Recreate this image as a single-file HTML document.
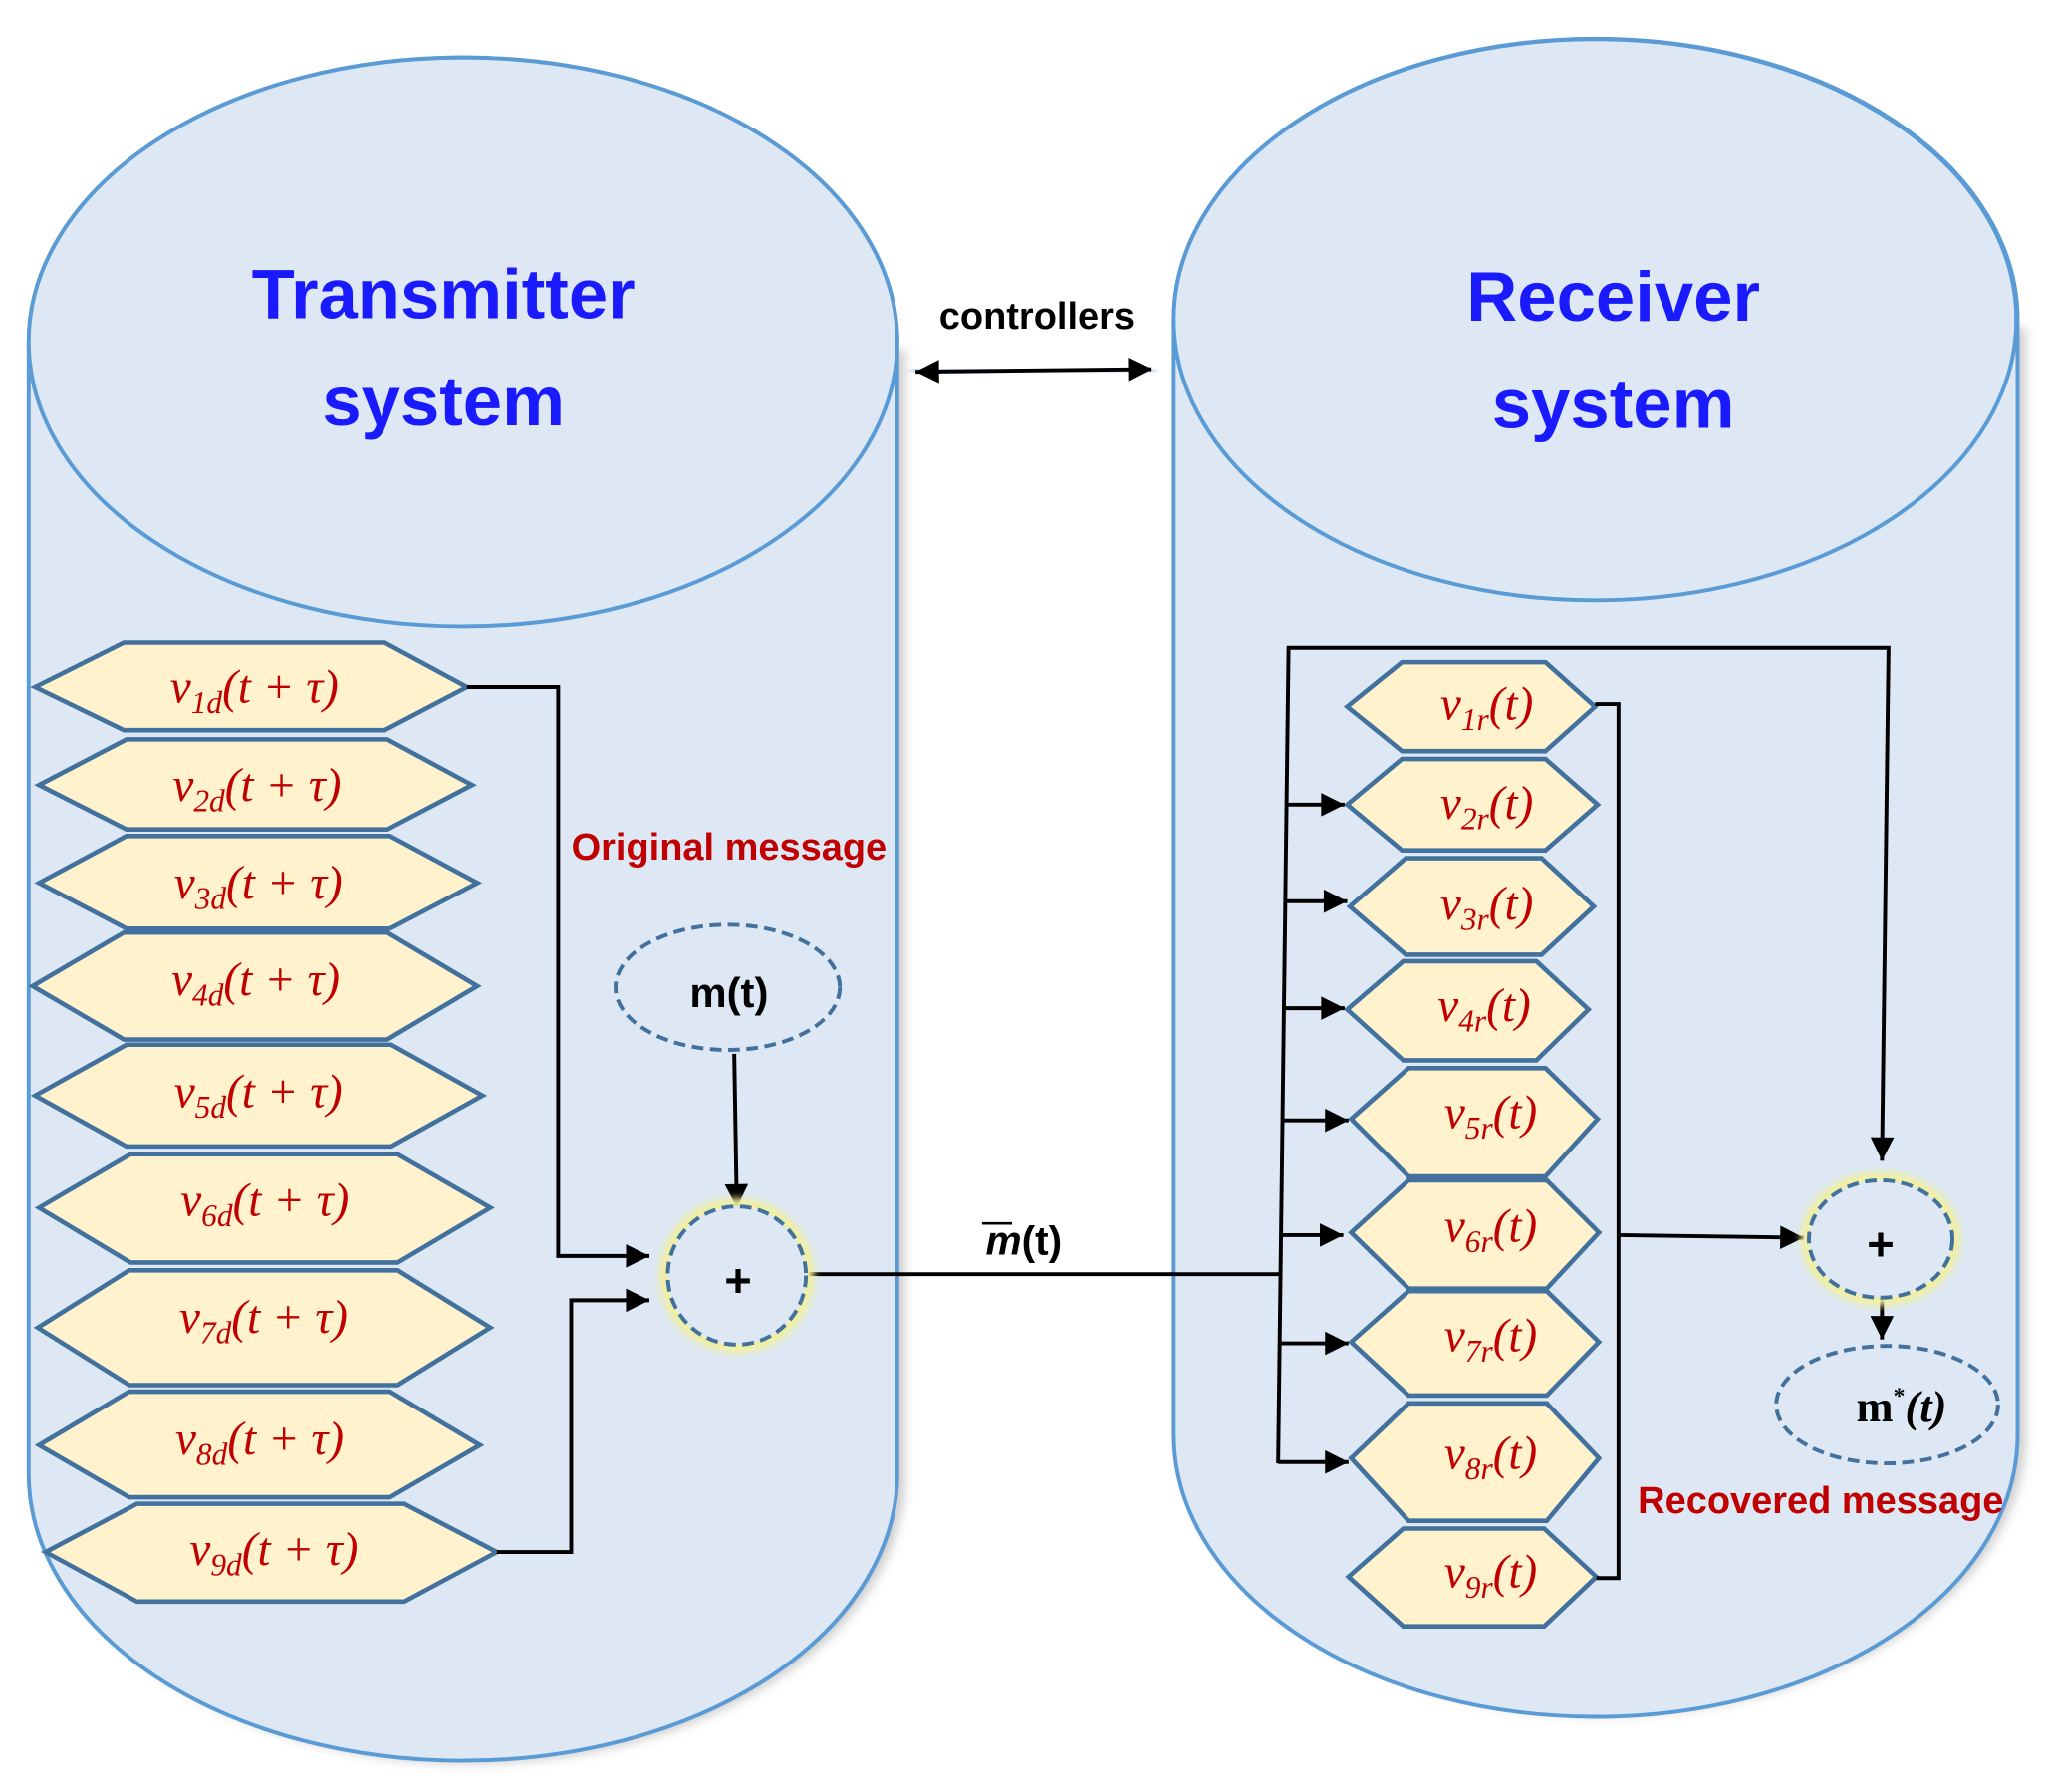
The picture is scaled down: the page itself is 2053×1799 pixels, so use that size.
<!DOCTYPE html>
<html><head><meta charset="utf-8"><style>html,body{margin:0;padding:0;background:#fff}svg{display:block}</style></head><body>
<svg width="2053" height="1799" viewBox="0 0 1568 1374" preserveAspectRatio="none" xmlns="http://www.w3.org/2000/svg">
<defs>
<marker id="a" viewBox="0 0 10 10" markerWidth="20" markerHeight="18" refX="10" refY="5" orient="auto-start-reverse" markerUnits="userSpaceOnUse"><path d="M0,0 L10,5 L0,10 z" fill="#000"/></marker>
<filter id="sh" x="-10%" y="-10%" width="120%" height="120%"><feGaussianBlur stdDeviation="4"/></filter>
<filter id="gl"><feGaussianBlur stdDeviation="3"/></filter>
</defs>
<g font-family="Liberation Sans, sans-serif">
<path d="M28,268 L28,1130 A333,222 0 0 0 694,1130 L694,268" fill="#999" opacity="0.5" filter="url(#sh)"/>
<path d="M22,262 L22,1130 A333,220 0 0 0 688,1130 L688,262 A333,218 0 0 0 22,262 z" fill="#dde8f4" stroke="#5b9bd5" stroke-width="3"/>
<ellipse cx="355" cy="262" rx="333" ry="218" fill="#dde8f4" stroke="#5b9bd5" stroke-width="3"/>
<path d="M906,251 L906,1100 A323,215 0 0 0 1553,1100 L1553,251" fill="#999" opacity="0.5" filter="url(#sh)"/>
<path d="M900,245 L900,1100 A323,216 0 0 0 1547,1100 L1547,245 A323,215 0 0 0 900,245 z" fill="#dde8f4" stroke="#5b9bd5" stroke-width="3"/>
<ellipse cx="1223" cy="245" rx="323" ry="215" fill="#dde8f4" stroke="#5b9bd5" stroke-width="3"/>

<g font-weight="bold" fill="#1a1aff" font-size="54" text-anchor="middle">
<text x="340" y="244">Transmitter</text><text x="340" y="326">system</text>
<text x="1237" y="246">Receiver</text><text x="1237" y="328">system</text>
</g>
<text x="795" y="252" font-size="29" font-weight="bold" text-anchor="middle">controllers</text>
<line x1="700" y1="285" x2="885" y2="283" stroke="#9cc3ee" stroke-width="8" filter="url(#gl)"/>
<line x1="702" y1="285" x2="883" y2="283" stroke="#000" stroke-width="3" marker-start="url(#a)" marker-end="url(#a)"/>

<g fill="#fff2cc" stroke="#41719c" stroke-width="3.5">
<polygon points="27,527 95,493 295,493 358,527 295,560 95,560"/>
<polygon points="30,602 97,567 297,567 362,602 297,636 97,636"/>
<polygon points="30,677 97,641 299,641 366,677 299,712 97,712"/>
<polygon points="25,756 95,715 297,715 366,756 297,797 95,797"/>
<polygon points="27,840 97,801 300,801 370,840 300,879 97,879"/>
<polygon points="30,926 100,885 305,885 376,926 305,968 100,968"/>
<polygon points="29,1018 99,974 305,974 376,1018 305,1062 99,1062"/>
<polygon points="30,1108 99,1067 299,1067 368,1108 299,1148 99,1148"/>
<polygon points="35,1190 105,1153 310,1153 381,1190 310,1228 105,1228"/>
</g>
<g font-family="Liberation Serif, serif" font-style="italic" fill="#c00000" font-size="36" text-anchor="middle">
<text x="195" y="539">v<tspan font-size="24" dy="8">1d</tspan><tspan dy="-8">(t + τ)</tspan></text>
<text x="197" y="614">v<tspan font-size="24" dy="8">2d</tspan><tspan dy="-8">(t + τ)</tspan></text>
<text x="198" y="689">v<tspan font-size="24" dy="8">3d</tspan><tspan dy="-8">(t + τ)</tspan></text>
<text x="196" y="763">v<tspan font-size="24" dy="8">4d</tspan><tspan dy="-8">(t + τ)</tspan></text>
<text x="198" y="849">v<tspan font-size="24" dy="8">5d</tspan><tspan dy="-8">(t + τ)</tspan></text>
<text x="203" y="932">v<tspan font-size="24" dy="8">6d</tspan><tspan dy="-8">(t + τ)</tspan></text>
<text x="202" y="1022">v<tspan font-size="24" dy="8">7d</tspan><tspan dy="-8">(t + τ)</tspan></text>
<text x="199" y="1115">v<tspan font-size="24" dy="8">8d</tspan><tspan dy="-8">(t + τ)</tspan></text>
<text x="210" y="1200">v<tspan font-size="24" dy="8">9d</tspan><tspan dy="-8">(t + τ)</tspan></text>
</g>
<g stroke="#000" stroke-width="3" fill="none">
<polyline points="358,527 428,527 428,963 498,963" marker-end="url(#a)"/>
<polyline points="381,1190 438,1190 438,997 498,997" marker-end="url(#a)"/>
<line x1="563" y1="808" x2="565" y2="926" marker-end="url(#a)"/>
<line x1="620" y1="977" x2="982" y2="977"/>
</g>
<text x="559" y="659" font-size="29" font-weight="bold" fill="#c00000" text-anchor="middle">Original message</text>
<ellipse cx="558" cy="757" rx="86" ry="48" fill="#dde8f4" stroke="#41719c" stroke-width="3" stroke-dasharray="9,5"/>
<text x="559" y="772" font-size="32" font-weight="bold" text-anchor="middle">m(t)</text>
<circle cx="565" cy="978" r="54" fill="none" stroke="#f3f09a" stroke-width="10" filter="url(#gl)"/>
<circle cx="565" cy="978" r="53" fill="#dde8f4" stroke="#41719c" stroke-width="3" stroke-dasharray="9,5"/>
<text x="566" y="994" font-size="36" font-weight="bold" text-anchor="middle">+</text>
<text x="785" y="962" font-size="31" font-weight="bold" text-anchor="middle"><tspan font-style="italic">m</tspan>(t)</text>
<line x1="753" y1="938" x2="776" y2="938" stroke="#000" stroke-width="2"/>

<g fill="#fff2cc" stroke="#41719c" stroke-width="3.5">
<polygon points="1033,542 1075,508 1185,508 1223,542 1185,576 1075,576"/>
<polygon points="1033,617 1075,582 1185,582 1225,617 1185,652 1075,652"/>
<polygon points="1035,695 1078,658 1182,658 1222,695 1182,732 1078,732"/>
<polygon points="1033,774 1076,737 1178,737 1218,774 1178,813 1076,813"/>
<polygon points="1036,858 1080,819 1185,819 1225,858 1185,902 1080,902"/>
<polygon points="1036,945 1080,905 1186,905 1226,945 1186,988 1080,988"/>
<polygon points="1036,1029 1080,990 1186,990 1226,1029 1186,1070 1080,1070"/>
<polygon points="1036,1118 1080,1076 1186,1076 1226,1118 1186,1166 1080,1166"/>
<polygon points="1034,1209 1076,1172 1184,1172 1224,1209 1184,1247 1076,1247"/>
</g>
<g font-family="Liberation Serif, serif" font-style="italic" fill="#c00000" font-size="36" text-anchor="middle">
<text x="1140" y="552">v<tspan font-size="24" dy="8">1r</tspan><tspan dy="-8">(t)</tspan></text>
<text x="1140" y="628">v<tspan font-size="24" dy="8">2r</tspan><tspan dy="-8">(t)</tspan></text>
<text x="1140" y="705">v<tspan font-size="24" dy="8">3r</tspan><tspan dy="-8">(t)</tspan></text>
<text x="1138" y="783">v<tspan font-size="24" dy="8">4r</tspan><tspan dy="-8">(t)</tspan></text>
<text x="1143" y="865">v<tspan font-size="24" dy="8">5r</tspan><tspan dy="-8">(t)</tspan></text>
<text x="1143" y="952">v<tspan font-size="24" dy="8">6r</tspan><tspan dy="-8">(t)</tspan></text>
<text x="1143" y="1036">v<tspan font-size="24" dy="8">7r</tspan><tspan dy="-8">(t)</tspan></text>
<text x="1143" y="1126">v<tspan font-size="24" dy="8">8r</tspan><tspan dy="-8">(t)</tspan></text>
<text x="1143" y="1217">v<tspan font-size="24" dy="8">9r</tspan><tspan dy="-8">(t)</tspan></text>
</g>
<g stroke="#000" stroke-width="3" fill="none">
<polyline points="980,1122 988,497 1448,497 1443,890" marker-end="url(#a)"/>
<line x1="987" y1="617" x2="1031" y2="617" marker-end="url(#a)"/>
<line x1="986" y1="691" x2="1033" y2="691" marker-end="url(#a)"/>
<line x1="985" y1="773" x2="1031" y2="773" marker-end="url(#a)"/>
<line x1="984" y1="859" x2="1034" y2="859" marker-end="url(#a)"/>
<line x1="983" y1="947" x2="1030" y2="947" marker-end="url(#a)"/>
<line x1="981" y1="1030" x2="1034" y2="1030" marker-end="url(#a)"/>
<line x1="980" y1="1121" x2="1034" y2="1121" marker-end="url(#a)"/>
<polyline points="1223,540 1241,540 1241,1210 1224,1210"/>
<line x1="1241" y1="947" x2="1383" y2="949" marker-end="url(#a)"/>
<line x1="1443" y1="995" x2="1443" y2="1027" marker-end="url(#a)"/>
</g>
<ellipse cx="1442" cy="950" rx="56" ry="46" fill="none" stroke="#f3f09a" stroke-width="10" filter="url(#gl)"/>
<ellipse cx="1442" cy="950" rx="55" ry="45" fill="#dde8f4" stroke="#41719c" stroke-width="3" stroke-dasharray="9,5"/>
<text x="1442" y="966" font-size="36" font-weight="bold" text-anchor="middle">+</text>
<ellipse cx="1447" cy="1077" rx="85" ry="45" fill="#dde8f4" stroke="#41719c" stroke-width="3" stroke-dasharray="9,5"/>
<text x="1458" y="1090" font-family="Liberation Serif, serif" font-size="34" font-weight="bold" text-anchor="middle">m<tspan font-size="18" dy="-14">*</tspan><tspan dy="14" font-style="italic">(t)</tspan></text>
<text x="1396" y="1160" font-size="29" font-weight="bold" fill="#c00000" text-anchor="middle">Recovered message</text>
</g>
</svg>
</body></html>
